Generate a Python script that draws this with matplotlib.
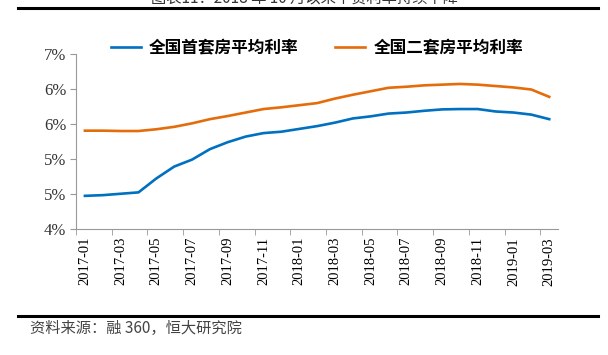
import math
import matplotlib
matplotlib.use("Agg")
import matplotlib.pyplot as plt
from matplotlib.ticker import FixedLocator, FuncFormatter

months = ["2017-01", "2017-02", "2017-03", "2017-04", "2017-05", "2017-06",
          "2017-07", "2017-08", "2017-09", "2017-10", "2017-11", "2017-12",
          "2018-01", "2018-02", "2018-03", "2018-04", "2018-05", "2018-06",
          "2018-07", "2018-08", "2018-09", "2018-10", "2018-11", "2018-12",
          "2019-01", "2019-02", "2019-03"]

first_home = [4.47, 4.48, 4.50, 4.52, 4.72, 4.89, 4.99, 5.14, 5.24,
              5.32, 5.37, 5.39, 5.43, 5.47, 5.52, 5.58, 5.61, 5.65,
              5.665, 5.69, 5.71, 5.715, 5.715, 5.68, 5.665, 5.635, 5.57]

second_home = [5.405, 5.405, 5.40, 5.40, 5.425, 5.46, 5.51, 5.57, 5.615,
               5.665, 5.715, 5.74, 5.77, 5.80, 5.865, 5.92, 5.97, 6.02,
               6.035, 6.055, 6.065, 6.075, 6.065, 6.045, 6.025, 5.995, 5.89]

series_names = ["全国首套房平均利率", "全国二套房平均利率"]
title_text = "图表11：2018 年 10 月以来个贷利率持续下降"
source_text = "资料来源：融 360，恒大研究院"

cjk = ["Noto Sans CJK SC", "DejaVu Sans"]
serif = ["Liberation Serif", "DejaVu Serif"]

fig = plt.figure(figsize=(6.08, 3.55), dpi=100)
ax = fig.add_axes([0.125, 0.356, 0.793, 0.491])

x = list(range(len(months)))
ax.plot(x, first_home, color="#0070C0", linewidth=1.9, label=series_names[0])
ax.plot(x, second_home, color="#E46C0A", linewidth=1.9, label=series_names[1])

ax.set_xlim(-0.5, len(months) - 0.5)
ax.set_ylim(4.0, 6.5)

ax.set_yticks([4.0, 4.5, 5.0, 5.5, 6.0, 6.5])
ax.yaxis.set_major_formatter(FuncFormatter(lambda v, p: "%d%%" % math.floor(v + 0.5 + 1e-9)))

ax.set_xticks(x[::2])
ax.set_xticklabels(months[::2], rotation=90)
ax.xaxis.set_minor_locator(FixedLocator([i - 0.5 for i in range(0, len(months) + 1, 2)]))
ax.tick_params(axis="x", which="major", length=0, pad=6)
ax.tick_params(axis="x", which="minor", length=4, color="#999999", direction="out")
ax.tick_params(axis="y", length=4, color="#999999", direction="out", pad=3)

for lab in ax.get_xticklabels() + ax.get_yticklabels():
    lab.set_fontfamily(serif)
for lab in ax.get_xticklabels():
    lab.set_fontsize(10.5)
for lab in ax.get_yticklabels():
    lab.set_fontsize(12)
    lab.set_color("#333333")

for s in ["top", "right"]:
    ax.spines[s].set_visible(False)
for s in ["left", "bottom"]:
    ax.spines[s].set_color("#999999")
    ax.spines[s].set_linewidth(0.8)

leg = ax.legend(loc="center", bbox_to_anchor=(0.5, 1.036), ncol=2, frameon=False,
                prop={"family": cjk, "weight": "bold", "size": 12},
                handlelength=1.8, columnspacing=2.2, handletextpad=0.5)

# title (cut off at the top of the image, as in the source) and rules
fig.text(0.5, 1.006, title_text, ha="center", va="center", fontsize=11, family=cjk, color="#333333")
fig.add_artist(plt.Line2D([0.03, 0.984], [1 - 8 / 355, 1 - 8 / 355], color="black", linewidth=2.2))
fig.add_artist(plt.Line2D([0.03, 0.984], [1 - 316 / 355, 1 - 316 / 355], color="black", linewidth=2.2))
fig.text(0.05, 1 - 328 / 355, source_text, ha="left", va="center", fontsize=11,
         family=cjk, style="italic", color="#444444")

fig.savefig("out.png", dpi=100)
